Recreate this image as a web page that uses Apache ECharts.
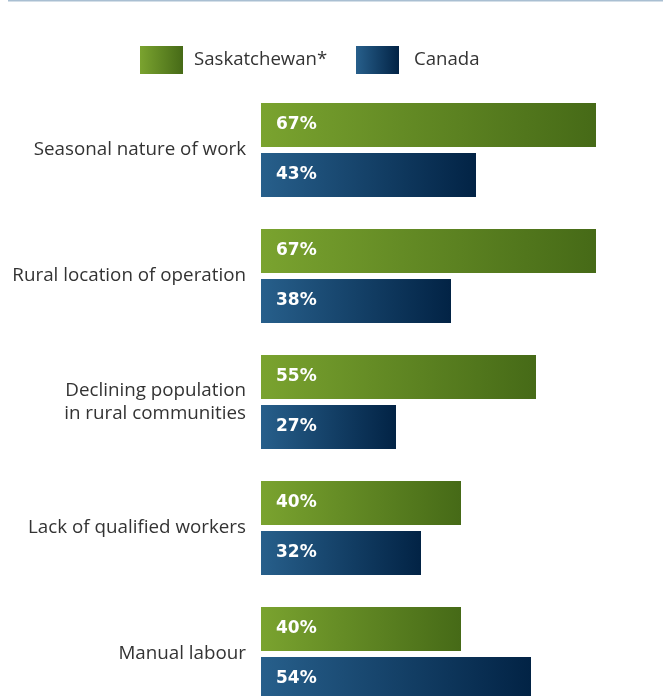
<!DOCTYPE html>
<html>
<head>
<meta charset="utf-8">
<script src="https://cdn.jsdelivr.net/npm/echarts@6/dist/echarts.min.js"></script>
<style>
  html, body { margin: 0; padding: 0; background: #ffffff; }
  #chart { width: 663px; height: 696px; }
</style>
</head>
<body>
<div id="chart"></div>
<script>
// Reasons cited for labour shortages, share of operations (%)
const categories = [
  'Seasonal nature of work',
  'Rural location of operation',
  'Declining population\nin rural communities',
  'Lack of qualified workers',
  'Manual labour'
];
const seriesNames = ['Saskatchewan*', 'Canada'];
const saskatchewan = [67, 67, 55, 40, 40];
const canada = [43, 38, 27, 32, 54];

const chart = echarts.init(document.getElementById('chart'), null, { renderer: 'canvas' });

function hGradient(from, to) {
  return new echarts.graphic.LinearGradient(0, 0, 1, 0, [
    { offset: 0, color: from },
    { offset: 1, color: to }
  ]);
}

const valueLabel = {
  show: true,
  position: 'insideLeft',
  distance: 15,
  formatter: p => p.value + '%',
  color: '#ffffff',
  fontFamily: 'DejaVu Sans',
  fontWeight: 'bold',
  fontSize: 17
};

function legendAt(left, name, textGap) {
  return {
    left: left,
    top: 46,
    padding: 0,
    itemWidth: 43,
    itemHeight: 28,
    icon: 'rect',
    data: [name],
    textStyle: {
      fontFamily: 'Open Sans',
      fontSize: 18.6,
      color: '#333333',
      padding: [6, 0, 0, textGap]
    }
  };
}

chart.setOption({
  backgroundColor: '#ffffff',
  animation: false,
  graphic: [{
    type: 'rect',
    shape: { x: 8, y: 0, width: 655, height: 1.5 },
    style: { fill: '#a9bfd2' },
    silent: true
  }],
  legend: [
    legendAt(140, seriesNames[0], 6),
    legendAt(356, seriesNames[1], 10)
  ],
  grid: { left: 261, top: 87, width: 400, height: 630, outerBoundsMode: 'none' },
  xAxis: {
    type: 'value',
    min: 0,
    max: 80,
    show: false,
    splitLine: { show: false }
  },
  yAxis: {
    type: 'category',
    inverse: true,
    data: categories,
    axisLine: { show: false },
    axisTick: { show: false },
    axisLabel: {
      margin: 15,
      fontFamily: 'Open Sans',
      fontSize: 18.8,
      lineHeight: 23,
      color: '#333333',
      align: 'right',
      padding: [3, 0, 0, 0]
    }
  },
  series: [
    {
      name: seriesNames[0],
      type: 'bar',
      data: saskatchewan,
      barWidth: 44,
      barGap: '13.6%',
      itemStyle: { color: hGradient('#7aa32f', '#466a17') },
      label: valueLabel
    },
    {
      name: seriesNames[1],
      type: 'bar',
      data: canada,
      barWidth: 44,
      itemStyle: { color: hGradient('#275f8b', '#022345') },
      label: valueLabel
    }
  ]
});
</script>
</body>
</html>
